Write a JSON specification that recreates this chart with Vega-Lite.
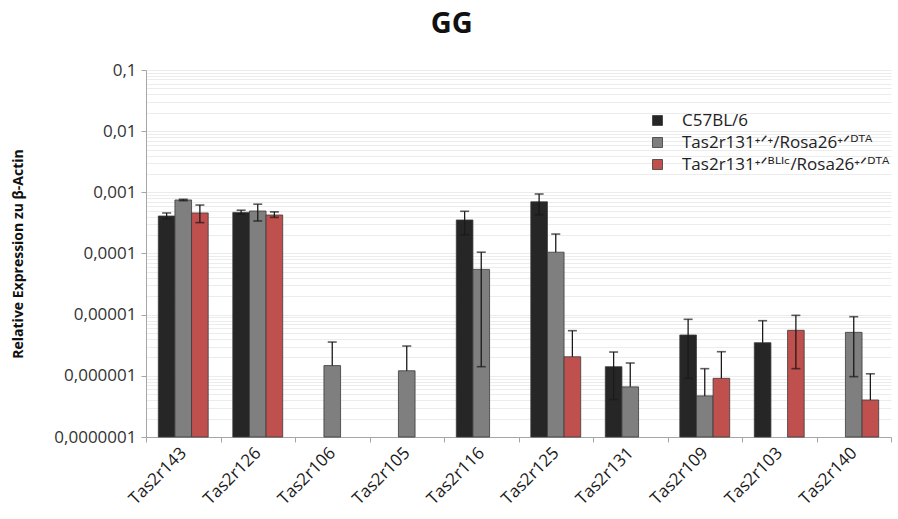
{
  "$schema": "https://vega.github.io/schema/vega-lite/v6.json",
  "width": 745,
  "height": 367,
  "autosize": {"type": "none"},
  "padding": {"left": 146, "top": 70, "right": 7, "bottom": 82},
  "background": "white",
  "title": {"text": "GG", "fontSize": 29, "font": "Open Sans", "fontWeight": "bold", "color": "#111111", "anchor": "middle", "frame": "bounds", "offset": 22},
  "config": {"view": {"stroke": null}, "font": "Open Sans"},
  "data": {"values": [
    {"gene": "Tas2r143", "group": "C57BL/6", "value": 4.1e-4, "hi": 4.6e-4, "lo": 3.7e-4, "caplo": 3.7e-4},
    {"gene": "Tas2r143", "group": "Tas2r131⁺ᐟ⁺/Rosa26⁺ᐟᴰᵀᴬ", "value": 7.5e-4, "hi": 7.7e-4, "lo": 7.3e-4, "caplo": 7.3e-4},
    {"gene": "Tas2r143", "group": "Tas2r131⁺ᐟᴮᴸᴵᶜ/Rosa26⁺ᐟᴰᵀᴬ", "value": 4.6e-4, "hi": 6.2e-4, "lo": 3.2e-4, "caplo": 3.2e-4},
    {"gene": "Tas2r126", "group": "C57BL/6", "value": 4.7e-4, "hi": 5.1e-4, "lo": 4.4e-4, "caplo": 4.4e-4},
    {"gene": "Tas2r126", "group": "Tas2r131⁺ᐟ⁺/Rosa26⁺ᐟᴰᵀᴬ", "value": 4.95e-4, "hi": 6.4e-4, "lo": 3.4e-4, "caplo": 3.4e-4},
    {"gene": "Tas2r126", "group": "Tas2r131⁺ᐟᴮᴸᴵᶜ/Rosa26⁺ᐟᴰᵀᴬ", "value": 4.26e-4, "hi": 4.8e-4, "lo": 3.9e-4, "caplo": 3.9e-4},
    {"gene": "Tas2r106", "group": "Tas2r131⁺ᐟ⁺/Rosa26⁺ᐟᴰᵀᴬ", "value": 1.47e-6, "hi": 3.57e-6, "lo": 1.47e-6, "caplo": null},
    {"gene": "Tas2r105", "group": "Tas2r131⁺ᐟ⁺/Rosa26⁺ᐟᴰᵀᴬ", "value": 1.21e-6, "hi": 3.07e-6, "lo": 1.21e-6, "caplo": null},
    {"gene": "Tas2r116", "group": "C57BL/6", "value": 3.53e-4, "hi": 4.9e-4, "lo": 2.03e-4, "caplo": 2.03e-4},
    {"gene": "Tas2r116", "group": "Tas2r131⁺ᐟ⁺/Rosa26⁺ᐟᴰᵀᴬ", "value": 5.5e-5, "hi": 1.05e-4, "lo": 1.41e-6, "caplo": 1.41e-6},
    {"gene": "Tas2r125", "group": "C57BL/6", "value": 7.0e-4, "hi": 9.4e-4, "lo": 4.3e-4, "caplo": 4.3e-4},
    {"gene": "Tas2r125", "group": "Tas2r131⁺ᐟ⁺/Rosa26⁺ᐟᴰᵀᴬ", "value": 1.05e-4, "hi": 2.08e-4, "lo": 1.05e-4, "caplo": null},
    {"gene": "Tas2r125", "group": "Tas2r131⁺ᐟᴮᴸᴵᶜ/Rosa26⁺ᐟᴰᵀᴬ", "value": 2.05e-6, "hi": 5.47e-6, "lo": 2.05e-6, "caplo": null},
    {"gene": "Tas2r131", "group": "C57BL/6", "value": 1.41e-6, "hi": 2.45e-6, "lo": 4.1e-7, "caplo": 4.1e-7},
    {"gene": "Tas2r131", "group": "Tas2r131⁺ᐟ⁺/Rosa26⁺ᐟᴰᵀᴬ", "value": 6.6e-7, "hi": 1.62e-6, "lo": 6.6e-7, "caplo": null},
    {"gene": "Tas2r109", "group": "C57BL/6", "value": 4.65e-6, "hi": 8.4e-6, "lo": 9.1e-7, "caplo": 9.1e-7},
    {"gene": "Tas2r109", "group": "Tas2r131⁺ᐟ⁺/Rosa26⁺ᐟᴰᵀᴬ", "value": 4.7e-7, "hi": 1.31e-6, "lo": 4.7e-7, "caplo": null},
    {"gene": "Tas2r109", "group": "Tas2r131⁺ᐟᴮᴸᴵᶜ/Rosa26⁺ᐟᴰᵀᴬ", "value": 9.1e-7, "hi": 2.48e-6, "lo": 9.1e-7, "caplo": null},
    {"gene": "Tas2r103", "group": "C57BL/6", "value": 3.48e-6, "hi": 7.97e-6, "lo": 3.48e-6, "caplo": null},
    {"gene": "Tas2r103", "group": "Tas2r131⁺ᐟᴮᴸᴵᶜ/Rosa26⁺ᐟᴰᵀᴬ", "value": 5.55e-6, "hi": 9.75e-6, "lo": 1.31e-6, "caplo": 1.31e-6},
    {"gene": "Tas2r140", "group": "Tas2r131⁺ᐟ⁺/Rosa26⁺ᐟᴰᵀᴬ", "value": 5.14e-6, "hi": 9.27e-6, "lo": 9.7e-7, "caplo": 9.7e-7},
    {"gene": "Tas2r140", "group": "Tas2r131⁺ᐟᴮᴸᴵᶜ/Rosa26⁺ᐟᴰᵀᴬ", "value": 4.03e-7, "hi": 1.08e-6, "lo": 4.03e-7, "caplo": null}
  ]},
  "encoding": {
    "x": {
      "field": "gene", "type": "nominal", "sort": null,
      "scale": {"domain": ["Tas2r143", "Tas2r126", "Tas2r106", "Tas2r105", "Tas2r116", "Tas2r125", "Tas2r131", "Tas2r109", "Tas2r103", "Tas2r140"], "paddingInner": 0, "paddingOuter": 0},
      "axis": {"title": null, "tickBand": "extent", "labelAngle": -45, "labelAlign": "right", "labelBaseline": "middle", "labelFontSize": 17, "labelFont": "Open Sans", "labelColor": "#1a1a1a", "labelPadding": 8, "tickSize": 5, "tickColor": "#a6a6a6", "domainColor": "#a6a6a6", "grid": false}
    },
    "xOffset": {
      "field": "group", "type": "nominal",
      "scale": {"domain": ["C57BL/6", "Tas2r131⁺ᐟ⁺/Rosa26⁺ᐟᴰᵀᴬ", "Tas2r131⁺ᐟᴮᴸᴵᶜ/Rosa26⁺ᐟᴰᵀᴬ"], "paddingInner": 0, "paddingOuter": 0.74}
    }
  },
  "layer": [
    {
      "mark": {"type": "bar", "stroke": "#3a3a3a", "strokeWidth": 0.8},
      "encoding": {
        "y": {
          "field": "value", "type": "quantitative",
          "scale": {"type": "log", "domain": [1e-7, 0.1], "nice": false},
          "axis": {
            "title": "Relative Expression zu β-Actin", "titleFont": "Open Sans", "titleFontSize": 14, "titleFontWeight": "bold", "titleColor": "#111111", "titlePadding": 28,
            "values": [1e-7, 2e-7, 3e-7, 4e-7, 5e-7, 6e-7, 7e-7, 8e-7, 9e-7, 1e-6, 2e-6, 3e-6, 4e-6, 5e-6, 6e-6, 7e-6, 8e-6, 9e-6, 1e-5, 2e-5, 3e-5, 4e-5, 5e-5, 6e-5, 7e-5, 8e-5, 9e-5, 1e-4, 2e-4, 3e-4, 4e-4, 5e-4, 6e-4, 7e-4, 8e-4, 9e-4, 0.001, 0.002, 0.003, 0.004, 0.005, 0.006, 0.007, 0.008, 0.009, 0.01, 0.02, 0.03, 0.04, 0.05, 0.06, 0.07, 0.08, 0.09, 0.1],
            "labelExpr": "abs(log(datum.value)/LN10 - round(log(datum.value)/LN10)) < 0.001 ? replace(format(datum.value, '.' + (-round(log(datum.value)/LN10)) + 'f'), '.', ',') : ''",
            "labelFontSize": 17, "labelFont": "Open Sans", "labelColor": "#333333", "labelPadding": 5,
            "tickSize": 5, "tickColor": "#a6a6a6",
            "tickOpacity": {"condition": {"test": "abs(log(datum.value)/LN10 - round(log(datum.value)/LN10)) < 0.001", "value": 1}, "value": 0},
            "domainColor": "#a6a6a6",
            "grid": true, "gridColor": "#ececec", "gridWidth": 1
          }
        },
        "y2": {"datum": 1e-7},
        "color": {
          "field": "group", "type": "nominal",
          "scale": {"domain": ["C57BL/6", "Tas2r131⁺ᐟ⁺/Rosa26⁺ᐟᴰᵀᴬ", "Tas2r131⁺ᐟᴮᴸᴵᶜ/Rosa26⁺ᐟᴰᵀᴬ"], "range": ["#262626", "#7f7f7f", "#c0504d"]},
          "legend": {"title": null, "orient": "none", "legendX": 503, "legendY": 42, "symbolType": "square", "symbolSize": 100, "symbolStrokeColor": "#3a3a3a", "symbolStrokeWidth": 0.8, "labelFont": "Open Sans, DejaVu Sans", "labelFontSize": 17, "labelColor": "#222222", "labelOffset": 16, "labelLimit": 0, "rowPadding": 4}
        }
      }
    },
    {
      "mark": {"type": "rule", "color": "#1a1a1a", "strokeWidth": 1.3},
      "encoding": {
        "y": {"field": "lo", "type": "quantitative"},
        "y2": {"field": "hi"}
      }
    },
    {
      "mark": {"type": "tick", "color": "#1a1a1a", "thickness": 1.6, "size": 9},
      "encoding": {"y": {"field": "hi", "type": "quantitative"}}
    },
    {
      "mark": {"type": "tick", "color": "#1a1a1a", "thickness": 1.6, "size": 9},
      "encoding": {"y": {"field": "caplo", "type": "quantitative"}}
    }
  ]
}
